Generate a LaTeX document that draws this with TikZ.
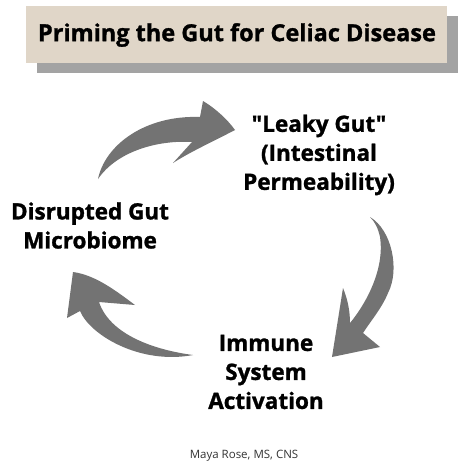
\documentclass[tikz,border=0pt]{standalone}
\usepackage{fontspec}
\setmainfont{Open Sans}[Ligatures=TeXOff, BoldFeatures={FakeBold=1.2}]
\definecolor{boxbeige}{HTML}{E0D6C8}
\definecolor{shadowgray}{HTML}{A3A3A3}
\definecolor{arrowgray}{HTML}{737373}
\begin{document}
\begin{tikzpicture}[x=1pt, y=-1pt,
   stagetext/.style={font=\fontsize{22.5}{29}\selectfont\bfseries, align=center, inner sep=0pt},
   curl/.style={fill=arrowgray, draw=none}]
   \useasboundingbox (0,0) rectangle (474,474);
   \fill[white] (0,0) rectangle (474,474);
   % title banner with its shadow
   \fill[shadowgray] (37,16) rectangle (458,73);
   \fill[boxbeige] (26,6) rectangle (447,63);
   \node[font=\fontsize{23.5}{25}\selectfont\bfseries] (title) at (237,35) {Priming the Gut for Celiac Disease};
   % the three stages
   \node[stagetext] (leaky) at (319,155) {"Leaky Gut"\\(Intestinal\\Permeability)};
   \node[stagetext] (immune) at (266,372) {Immune\\System\\Activation};
   \node[stagetext] (microbiome) at (90,225.5) {Disrupted Gut\\Microbiome};
   % curved arrows
   \fill[curl] (98,179) .. controls (105,145) and (145,115) .. (200,117) -- (203,101)
      .. controls (215,108) and (228,120) .. (235,130) .. controls (212,142) and (190,152) .. (173,163)
      -- (192,142) .. controls (160,140) and (118,150) .. (98,179) -- cycle;
   \fill[curl] (370,217) .. controls (392,230) and (400,270) .. (388,293)
      .. controls (382,308) and (370,322) .. (363,333) -- (380,347) -- (332,357) -- (343,288)
      .. controls (348,300) and (350,312) .. (350,323) .. controls (365,305) and (385,270) .. (380,237)
      .. controls (378,228) and (375,222) .. (370,217) -- cycle;
   \fill[curl] (73,272) -- (67,318) -- (80,311) .. controls (90,335) and (140,365) .. (193,355)
      .. controls (155,350) and (110,335) .. (99,302) -- (135,305)
      .. controls (115,290) and (95,275) .. (73,272) -- cycle;
   % credit line
   \node[font=\fontsize{11.5}{13}\selectfont, text=black!80] (author) at (244,456) {Maya Rose, MS, CNS};
\end{tikzpicture}
\end{document}
